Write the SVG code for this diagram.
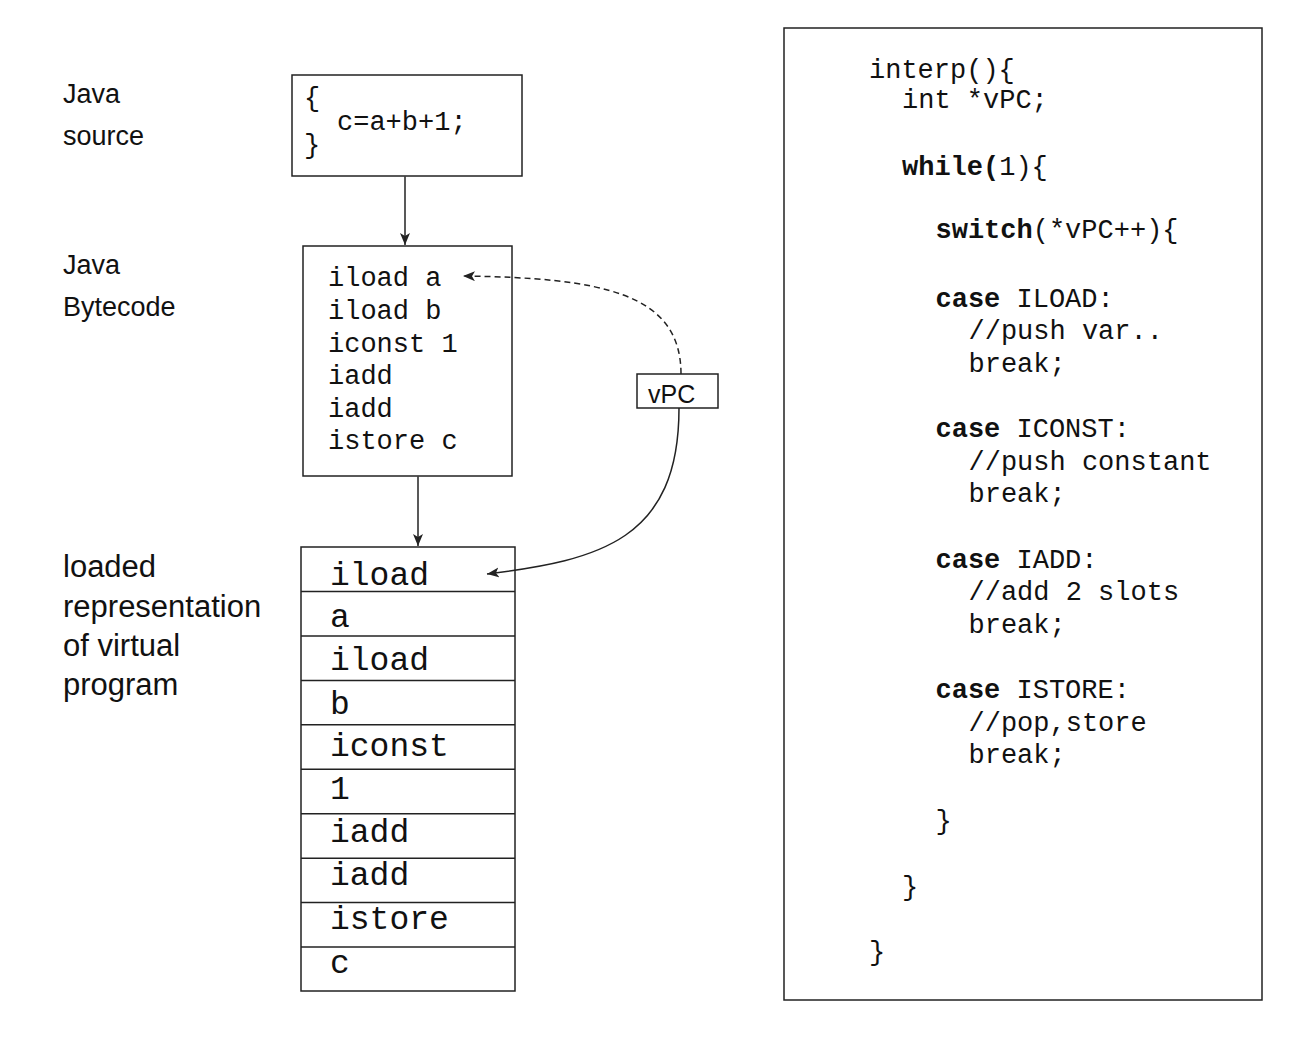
<svg xmlns="http://www.w3.org/2000/svg" width="1296" height="1046" viewBox="0 0 1296 1046">
<style>
.box{fill:#fff;stroke:#222;stroke-width:1.5}
.lbl{font-family:"Liberation Sans",Arial,sans-serif;font-size:27px;fill:#111}
.lbl2{font-family:"Liberation Sans",Arial,sans-serif;font-size:31px;fill:#111}
.m27{font-family:"Liberation Mono","Courier New",monospace;font-size:27px;fill:#111}
.m33{font-family:"Liberation Mono","Courier New",monospace;font-size:33px;fill:#111}
.code{font-family:"Liberation Mono","Courier New",monospace;font-size:27px;fill:#111}
.b{font-weight:bold}
.conn{fill:none;stroke:#222;stroke-width:1.5}
.dash{stroke-dasharray:6 4}
</style>
<defs>
<marker id="ah" markerUnits="userSpaceOnUse" markerWidth="14" markerHeight="12" refX="12" refY="5" orient="auto">
<path d="M0,0 L12,5 L0,10 L3,5 z" fill="#222"/>
</marker>
</defs>
<rect width="1296" height="1046" fill="#fff"/>

<g id="labels">
<text class="lbl" x="63" y="103">Java</text>
<text class="lbl" x="63" y="145">source</text>
<text class="lbl" x="63" y="274">Java</text>
<text class="lbl" x="63" y="316">Bytecode</text>
<text class="lbl2" x="63" y="577">loaded</text>
<text class="lbl2" x="63" y="617">representation</text>
<text class="lbl2" x="63" y="656">of virtual</text>
<text class="lbl2" x="63" y="695">program</text>
</g>

<g id="source">
<rect class="box" x="292" y="75" width="230" height="101"/>
<text class="m27" x="304" y="106">{</text>
<text class="m27" x="337" y="130">c=a+b+1;</text>
<text class="m27" x="304" y="153">}</text>
</g>

<g id="bytecode">
<rect class="box" x="303" y="246" width="209" height="230"/>
<text class="m27" x="328" y="286">iload a</text>
<text class="m27" x="328" y="319">iload b</text>
<text class="m27" x="328" y="352">iconst 1</text>
<text class="m27" x="328" y="384">iadd</text>
<text class="m27" x="328" y="417">iadd</text>
<text class="m27" x="328" y="449">istore c</text>
</g>

<g id="vpc">
<rect class="box" x="637" y="374" width="81" height="34"/>
<text class="lbl" x="648" y="403" style="font-size:25px">vPC</text>
</g>

<g id="loaded">
<rect class="box" x="301" y="547" width="214" height="444"/>
<g stroke="#222" stroke-width="1.5">
<line x1="301" y1="591.5" x2="515" y2="591.5"/>
<line x1="301" y1="636" x2="515" y2="636"/>
<line x1="301" y1="680.4" x2="515" y2="680.4"/>
<line x1="301" y1="724.8" x2="515" y2="724.8"/>
<line x1="301" y1="769.3" x2="515" y2="769.3"/>
<line x1="301" y1="813.7" x2="515" y2="813.7"/>
<line x1="301" y1="858.2" x2="515" y2="858.2"/>
<line x1="301" y1="902.6" x2="515" y2="902.6"/>
<line x1="301" y1="947" x2="515" y2="947"/>
</g>
<text class="m33" x="330" y="585">iload</text>
<text class="m33" x="330" y="627">a</text>
<text class="m33" x="330" y="670">iload</text>
<text class="m33" x="330" y="714">b</text>
<text class="m33" x="330" y="756">iconst</text>
<text class="m33" x="330" y="799">1</text>
<text class="m33" x="330" y="842">iadd</text>
<text class="m33" x="330" y="885">iadd</text>
<text class="m33" x="330" y="929">istore</text>
<text class="m33" x="330" y="973">c</text>
</g>

<g id="interp">
<rect class="box" x="784" y="28" width="478" height="972"/>
<text class="code" x="869" y="78">interp(){</text>
<text class="code" x="902" y="108">int *vPC;</text>
<text class="code" x="902" y="175"><tspan class="b">while(</tspan>1){</text>
<text class="code" x="935.5" y="238"><tspan class="b">switch</tspan>(*vPC++){</text>
<text class="code" x="935.5" y="307"><tspan class="b">case</tspan> ILOAD:</text>
<text class="code" x="968.5" y="339">//push var..</text>
<text class="code" x="968.5" y="372">break;</text>
<text class="code" x="935.5" y="437"><tspan class="b">case</tspan> ICONST:</text>
<text class="code" x="968.5" y="470">//push constant</text>
<text class="code" x="968.5" y="502">break;</text>
<text class="code" x="935.5" y="568"><tspan class="b">case</tspan> IADD:</text>
<text class="code" x="968.5" y="600">//add 2 slots</text>
<text class="code" x="968.5" y="633">break;</text>
<text class="code" x="935.5" y="698"><tspan class="b">case</tspan> ISTORE:</text>
<text class="code" x="968.5" y="731">//pop,store</text>
<text class="code" x="968.5" y="763">break;</text>
<text class="code" x="935.5" y="829">}</text>
<text class="code" x="902" y="895">}</text>
<text class="code" x="869" y="960">}</text>
</g>

<g id="connectors">
<line class="conn" x1="405" y1="176.5" x2="405" y2="245" marker-end="url(#ah)"/>
<line class="conn" x1="418" y1="476.5" x2="418" y2="546" marker-end="url(#ah)"/>
<path class="conn dash" d="M681,374 C681,292 600,278 463,276" marker-end="url(#ah)"/>
<path class="conn" d="M679,408 C679,540 600,560 487,574" marker-end="url(#ah)"/>
</g>
</svg>
